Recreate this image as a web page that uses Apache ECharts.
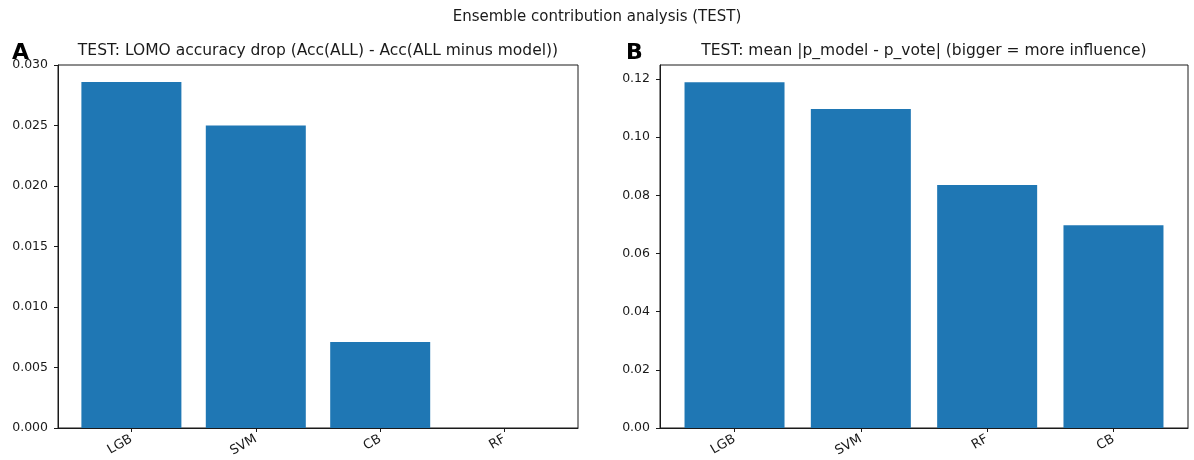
<!DOCTYPE html>
<html>
<head>
<meta charset="utf-8">
<title>Ensemble contribution analysis (TEST)</title>
<script src="https://cdn.jsdelivr.net/npm/echarts@6/dist/echarts.min.js"></script>
<style>
  html, body { margin: 0; padding: 0; background: #fff; }
  #chart { width: 1194px; height: 460px; }
</style>
</head>
<body>
<div id="chart"></div>
<script>
// Panel A: leave-one-model-out accuracy drop per model
const lomoModels = ['LGB', 'SVM', 'CB', 'RF'];
const lomoDrop = [0.0286, 0.0250, 0.0071, 0.0];
const lomoTicks = [0, 0.005, 0.010, 0.015, 0.020, 0.025, 0.030];

// Panel B: mean |p_model - p_vote| per model
const devModels = ['LGB', 'SVM', 'RF', 'CB'];
const devMean = [0.1189, 0.1097, 0.0836, 0.0697];
const devTicks = [0, 0.02, 0.04, 0.06, 0.08, 0.10, 0.12];

const BAR = '#1f77b4';
const INK = '#1a1a1a';
const FONT = 'DejaVu Sans';
const TICK_FONT = 12.5;

// bars sit at integer positions with matplotlib-style padding around them
const xPad = 0.59;

function xAxisFor(gridIndex, names) {
  const idx = names.map((_, i) => i);
  return {
    type: 'value', gridIndex,
    min: -xPad, max: names.length - 1 + xPad,
    splitLine: { show: false },
    axisLine: { show: true, onZero: false, lineStyle: { color: INK, width: 1 } },
    axisTick: { show: true, length: 4, lineStyle: { color: INK }, customValues: idx },
    axisLabel: {
      customValues: idx, rotate: 30, margin: 10,
      fontFamily: FONT, fontSize: 13, color: INK,
      formatter: v => names[Math.round(v)]
    }
  };
}

function yAxisFor(gridIndex, ticks, digits, max) {
  return {
    type: 'value', gridIndex,
    min: 0, max,
    splitLine: { show: false },
    axisLine: { show: true, onZero: false, lineStyle: { color: INK, width: 1 } },
    axisTick: { show: true, length: 4, lineStyle: { color: INK }, customValues: ticks },
    axisLabel: {
      customValues: ticks, margin: 10,
      fontFamily: FONT, fontSize: TICK_FONT, color: INK,
      formatter: v => v.toFixed(digits)
    }
  };
}

function barSeries(index, values) {
  return {
    type: 'bar', xAxisIndex: index, yAxisIndex: index,
    data: values.map((v, i) => [i, v]),
    barWidth: 100,
    itemStyle: { color: BAR },
    silent: true, animation: false
  };
}

const chart = echarts.init(document.getElementById('chart'), null, { renderer: 'canvas' });

chart.setOption({
  animation: false,
  grid: [
    { left: 58, top: 65, width: 520, height: 363, show: true, borderColor: INK, borderWidth: 1, backgroundColor: '#fff' },
    { left: 660, top: 65, width: 528, height: 363, show: true, borderColor: INK, borderWidth: 1, backgroundColor: '#fff' }
  ],
  xAxis: [xAxisFor(0, lomoModels), xAxisFor(1, devModels)],
  yAxis: [
    yAxisFor(0, lomoTicks, 3, 0.030),
    yAxisFor(1, devTicks, 2, Math.max(...devMean) * 1.05)
  ],
  series: [barSeries(0, lomoDrop), barSeries(1, devMean)],
  graphic: [
    { type: 'text', x: 597, y: 17, style: { text: 'Ensemble contribution analysis (TEST)', font: '15px "DejaVu Sans"', fill: INK, align: 'center', verticalAlign: 'middle' } },
    { type: 'text', x: 318, y: 51, style: { text: 'TEST: LOMO accuracy drop (Acc(ALL) - Acc(ALL minus model))', font: '15.5px "DejaVu Sans"', fill: INK, align: 'center', verticalAlign: 'middle' } },
    { type: 'text', x: 924, y: 51, style: { text: 'TEST: mean |p_model - p_vote| (bigger = more influence)', font: '15.5px "DejaVu Sans"', fill: INK, align: 'center', verticalAlign: 'middle' } },
    { type: 'text', x: 12, y: 53, style: { text: 'A', font: 'bold 22px "DejaVu Sans"', fill: '#000', align: 'left', verticalAlign: 'middle' } },
    { type: 'text', x: 626, y: 53, style: { text: 'B', font: 'bold 22px "DejaVu Sans"', fill: '#000', align: 'left', verticalAlign: 'middle' } }
  ]
});
</script>
</body>
</html>
